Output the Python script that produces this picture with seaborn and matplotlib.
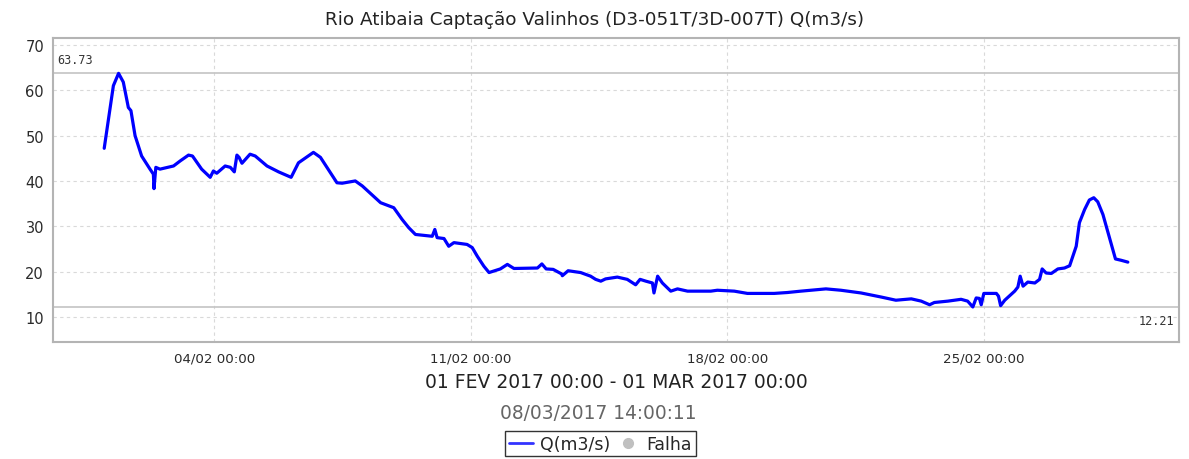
import pandas as pd
import numpy as np
import matplotlib
matplotlib.use("Agg")
import matplotlib.pyplot as plt
import matplotlib.dates as mdates
import matplotlib.transforms as mtransforms
from matplotlib.lines import Line2D
import seaborn as sns

START = "2017-02-01 00:00"
TITLE = "Rio Atibaia Captação Valinhos (D3-051T/3D-007T) Q(m3/s)"
PERIOD = "01 FEV 2017 00:00 - 01 MAR 2017 00:00"
STAMP = "08/03/2017 14:00:11"
SERIES = "Q(m3/s)"
FAIL = "Falha"

# hours after 01/02 00:00
hours = [0, 3.8, 6, 9.4, 12.5, 15.8, 17.5, 20.2, 24.5, 30, 32.2, 32.6, 33.8, 36.5,
         45.4, 49.7, 55.2, 57.8, 63.8, 69.4, 71.5, 73.7, 79.2, 82.6, 85.2, 86.9,
         88.3, 90.2, 95.5, 98.9, 106.6, 114.2, 122.4, 127.2, 137, 141.6, 152.4,
         155.8, 164.4, 169, 181, 189.6, 195.1, 199.4, 203.8, 214.8, 216.5, 218,
         222.5, 225.6, 229, 237.6, 241, 244.3, 248.6, 252, 259.4, 264, 268.3,
         283.7, 286.6, 289.4, 294, 299.5, 300, 303.8, 312, 318.5, 321.8, 325.2,
         328.3, 336, 342.5, 348, 350.9, 354.7, 359, 360, 362.4, 365.5, 371,
         375.4, 382, 397.2, 401.5, 412.6, 421.2, 438.7, 447.4, 456.2, 472.6,
         482.4, 495.6, 508.8, 518.4, 528.5, 535, 540.5, 543.6, 552.5, 561.1,
         565.4, 568.8, 571, 573.1, 574.3, 576, 584.2, 585.6, 587, 589.7, 596.2,
         598.3, 599.8, 601.7, 604.8, 609.4, 612.5, 614.2, 616.8, 620.2, 624.5,
         628.8, 632.2, 636.5, 638.6, 642, 645.1, 648, 650.6, 654, 658.3, 662.2,
         666, 670.3]
q = [47.2, 55.9, 61, 63.73, 61.8, 56.2, 55.5, 50, 45.5, 42.6, 41.5, 38.3, 43, 42.6,
     43.3, 44.4, 45.7, 45.5, 42.6, 40.8, 42.2, 41.7, 43.3, 43, 42, 45.7,
     45.2, 43.9, 45.9, 45.5, 43.3, 42, 40.8, 44, 46.3, 45.2, 39.6,
     39.5, 40, 38.9, 35.2, 34.1, 31.5, 29.7, 28.2, 27.8, 29.3, 27.5,
     27.3, 25.6, 26.4, 26, 25.3, 23.4, 21.2, 19.8, 20.6, 21.6, 20.7,
     20.8, 21.7, 20.6, 20.5, 19.5, 19.1, 20.2, 19.8, 19.0, 18.3, 17.9,
     18.4, 18.8, 18.3, 17.1, 18.3, 17.9, 17.5, 15.3, 19.0, 17.5, 15.7,
     16.2, 15.7, 15.7, 15.9, 15.7, 15.2, 15.2, 15.4, 15.7, 16.2,
     15.9, 15.3, 14.4, 13.7, 14.0, 13.5, 12.7, 13.2, 13.5, 13.9,
     13.5, 12.21, 14.2, 14.1, 12.7, 15.2, 15.2, 14.6, 12.5, 13.7, 15.7,
     16.6, 19.0, 16.8, 17.7, 17.5, 18.3, 20.6, 19.7, 19.6, 20.6,
     20.8, 21.3, 25.6, 30.8, 33.7, 35.8, 36.3, 35.4, 32.6, 27.5, 22.8,
     22.5, 22.1]

df = pd.DataFrame({"t": pd.Timestamp(START) + pd.to_timedelta(hours, unit="h"), "q": q})

sns.set_style("white")
plt.rcParams["font.family"] = ["DejaVu Sans"]

fig = plt.figure(figsize=(11.89, 4.6), dpi=100)
ax = fig.add_axes([0.0446, 0.2543, 0.947, 0.6603])

sns.lineplot(data=df, x="t", y="q", ax=ax, color="#0000ff", linewidth=2.3, zorder=3)

qmax, qmin = df["q"].max(), df["q"].min()
for v in (qmax, qmin):
    ax.axhline(v, color="#c4c4c4", linewidth=1.2, zorder=2)
trans = mtransforms.blended_transform_factory(ax.transAxes, ax.transData)
ax.text(0.004, qmax + 1.7, f"{qmax:.2f}", transform=trans, ha="left", va="bottom",
        fontsize=8.5, family="DejaVu Sans Mono", color="#333333")
ax.text(0.996, qmin - 1.6, f"{qmin:.2f}", transform=trans, ha="right", va="top",
        fontsize=8.5, family="DejaVu Sans Mono", color="#333333")

span = df["t"].max() - df["t"].min()
ax.set_xlim(df["t"].min() - span * 0.05, df["t"].max() + span * 0.05)
pad = (qmax - qmin) * 0.15
ax.set_ylim(qmin - pad, qmax + pad)
ax.set_yticks(range(10, 71, 10))
ax.xaxis.set_major_locator(mdates.DayLocator(bymonthday=[4, 11, 18, 25]))
ax.xaxis.set_major_formatter(mdates.DateFormatter("%d/%m %H:%M"))

ax.grid(True, color="#d9d9d9", linestyle=(0, (3, 3)), linewidth=0.8)
for s in ax.spines.values():
    s.set_color("#b4b4b4")
    s.set_linewidth(1.5)
ax.tick_params(axis="both", colors="#b4b4b4", labelcolor="#2a2a2a", length=3,
               width=1, direction="out")
ax.tick_params(axis="x", labelsize=9.6)
ax.tick_params(axis="y", labelsize=10.5)
ax.set_xlabel("")
ax.set_ylabel("")

fig.text(0.5, 0.957, TITLE, ha="center", va="center", fontsize=13.2, color="#222222")
# date-axis label sits centred under the plot area
ptrans = mtransforms.blended_transform_factory(ax.transAxes, fig.transFigure)
ax.text(0.5, 0.168, PERIOD, transform=ptrans, ha="center", va="center",
        fontsize=13.5, color="#222222")
fig.text(0.503, 0.102, STAMP, ha="center", va="center", fontsize=13.4, color="#666666")

handles = [Line2D([], [], color="#3333ff", linewidth=2),
           Line2D([], [], color="#c0c0c0", marker="o", linestyle="none", markersize=7)]
leg = fig.legend(handles, [SERIES, FAIL], loc="lower center", bbox_to_anchor=(0.505, 0.0),
                 ncol=2, frameon=True, fancybox=False, fontsize=12.5, handlelength=1.4,
                 handletextpad=0.4, columnspacing=0.3, borderpad=0.2, borderaxespad=0.15)
leg.get_frame().set_edgecolor("#000000")
leg.get_frame().set_linewidth(1.0)

fig.savefig("out.png", dpi=100)
